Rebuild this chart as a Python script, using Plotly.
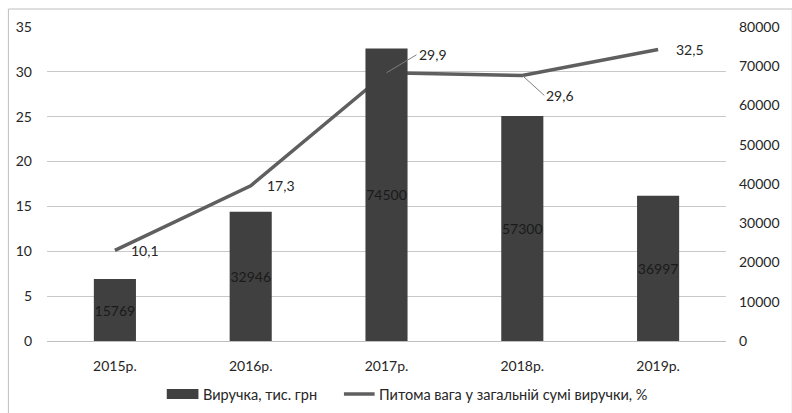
import plotly.graph_objects as go

years = ["2015р.", "2016р.", "2017р.", "2018р.", "2019р."]
revenue = [15769, 32946, 74500, 57300, 36997]
share = [10.1, 17.3, 29.9, 29.6, 32.5]
left_ticks = [0, 5, 10, 15, 20, 25, 30, 35]
right_ticks = [0, 10000, 20000, 30000, 40000, 50000, 60000, 70000, 80000]
bar_name = "Виручка, тис. грн"
line_name = "Питома вага у загальній сумі виручки, %"

FONT = "Lato"
TXT = "#262626"
BAR = "#404040"
LINE = "#5f5f5f"

def px_x(p):
    return (p - 47) / 686

def px_y(p):
    return (341 - p) / 314

fig = go.Figure()
fig.add_trace(go.Bar(
    x=years, y=revenue, yaxis="y2", name=bar_name, showlegend=False,
    marker=dict(color=BAR, line=dict(width=0)),
    width=0.31,
    text=[str(v) for v in revenue], textposition="inside", textangle=0,
    insidetextanchor="middle", constraintext="none",
    insidetextfont=dict(family=FONT, size=14, color="#1a1a1a"),
))
fig.add_trace(go.Scatter(
    x=years, y=share, yaxis="y", name=line_name, showlegend=False,
    mode="lines", line=dict(color=LINE, width=3.5),
))

ann = []
offsets = [(30, 0, False), (30, 0, False), (30, -18, True), (22, 20, True), (32, 0, False)]
for yr, v, (dx, dy, arrow) in zip(years, share, offsets):
    label = f"{v:.1f}".replace(".", ",")
    if arrow:
        ann.append(dict(x=yr, y=v, xref="x", yref="y", text=label, showarrow=True,
                        arrowhead=0, arrowwidth=1, arrowcolor="#7f7f7f",
                        ax=dx, ay=dy, xanchor="left", yanchor="middle",
                        font=dict(family=FONT, size=14, color=TXT)))
    else:
        ann.append(dict(x=yr, y=v, xref="x", yref="y", text=label, showarrow=False,
                        xshift=dx, xanchor="center", yanchor="middle",
                        font=dict(family=FONT, size=14, color=TXT)))

# manual legend
ann.append(dict(x=px_x(203), y=px_y(394), xref="paper", yref="paper", text=bar_name,
                showarrow=False, xanchor="left", yanchor="middle",
                font=dict(family=FONT, size=14.5, color=TXT)))
ann.append(dict(x=px_x(380), y=px_y(394), xref="paper", yref="paper", text=line_name,
                showarrow=False, xanchor="left", yanchor="middle",
                font=dict(family=FONT, size=14.5, color=TXT)))

shapes = [
    dict(type="rect", xref="paper", yref="paper",
         x0=px_x(8), x1=px_x(800), y0=px_y(420), y1=px_y(9),
         line=dict(color="#bfbfbf", width=1), fillcolor="rgba(0,0,0,0)", layer="below"),
    dict(type="rect", xref="paper", yref="paper",
         x0=px_x(168), x1=px_x(200), y0=px_y(399), y1=px_y(389),
         line=dict(width=0), fillcolor=BAR),
    dict(type="line", xref="paper", yref="paper",
         x0=px_x(347), x1=px_x(378), y0=px_y(394), y1=px_y(394),
         line=dict(color=LINE, width=3.5)),
]

fig.update_layout(
    width=792, height=413,
    margin=dict(l=47, r=59, t=27, b=72),
    paper_bgcolor="white", plot_bgcolor="white",
    font=dict(family=FONT, size=14, color=TXT),
    showlegend=False,
    xaxis=dict(showgrid=False, showline=True, linecolor="#bfbfbf", linewidth=1,
               ticks="", tickfont=dict(size=14, color=TXT), ticklabelstandoff=12),
    yaxis=dict(range=[0, 35], tickvals=left_ticks, showgrid=True, gridcolor="#c8c8c8",
               gridwidth=1, zeroline=False, showline=False, ticks="",
               ticklabelstandoff=14, tickfont=dict(size=14, color=TXT)),
    yaxis2=dict(range=[0, 80000], tickvals=right_ticks, tickformat="d",
                overlaying="y", side="right",
                showgrid=False, zeroline=False, showline=False, ticks="",
                ticklabelstandoff=12, tickfont=dict(size=14, color=TXT)),
    annotations=ann,
    shapes=shapes,
)

fig.write_html("out.html")
